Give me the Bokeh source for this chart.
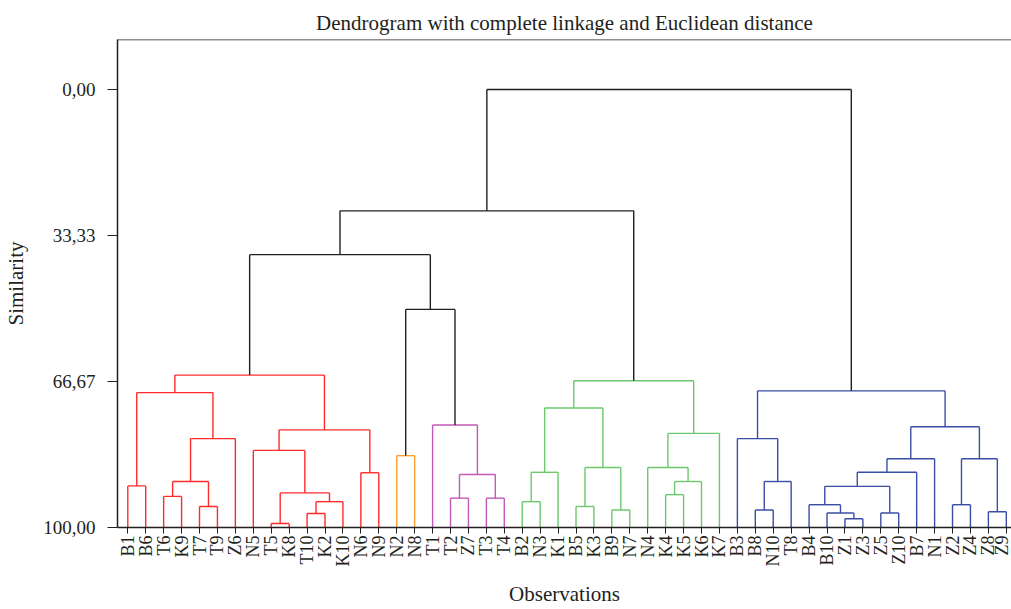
import math
from bokeh.plotting import figure
from bokeh.models import ColumnDataSource, Range1d, FixedTicker, Span
from bokeh.embed import file_html
from bokeh.resources import INLINE

# ---------------- data ----------------
leaves = ["B1", "B6", "T6", "K9", "T7", "T9", "Z6", "N5", "T5", "K8",
          "T10", "K2", "K10", "N6", "N9", "N2", "N8", "T1", "T2", "Z7",
          "T3", "T4", "B2", "N3", "K1", "B5", "K3", "B9", "N7", "N4",
          "K4", "K5", "K6", "K7", "B3", "B8", "N10", "T8", "B4", "B10",
          "Z1", "Z3", "Z5", "Z10", "B7", "N1", "Z2", "Z4", "Z8", "Z9"]

# merges: children are leaf names (str) or earlier merge indices (int)
merge_left = ["B1", "T6", "T7", 1, 3, 0, "T5", "T10", 7, 6,
              "N5", "N6", 10, 5, "N2", "T2", "T3", 15, "T1", 14,
              13, "B2", 21, "B5", "B9", 23, 22, "K4", 27, "N4",
              29, 26, 20, "B8", 33, "B3", "Z1", "B10", "B4", "Z5",
              38, 40, 41, "Z2", "Z8", 43, 42, 35, 32]
merge_right = ["B6", "K9", "T9", 2, "Z6", 4, "K8", "K2", "K10", 8,
               9, "N9", 11, 12, "N8", "Z7", "T4", 16, 17, 18,
               19, "N3", "K1", "K3", "N7", 24, 25, "K5", "K6", 28,
               "K7", 30, 31, "N10", "T8", 34, "Z3", 36, 37, "Z10",
               39, "B7", "N1", "Z4", "Z9", 44, 45, 46, 47]
merge_similarity = [90.5, 92.9, 95.2, 89.5, 79.7, 69.2, 99.1, 96.8, 94.1, 92.1,
                    82.4, 87.5, 77.7, 65.2, 83.6, 93.3, 93.3, 87.9, 76.6, 50.2,
                    37.7, 94.1, 87.4, 95.2, 96.0, 86.3, 72.7, 92.5, 89.5, 86.3,
                    78.5, 66.5, 27.7, 96.0, 89.5, 79.7, 98.0, 96.7, 94.8, 96.7,
                    90.6, 87.4, 84.3, 94.8, 96.4, 84.3, 77.0, 68.8, 0.0]
merge_cluster = ["C1"] * 14 + ["C2"] + ["C3"] * 4 + ["root"] * 2 + ["C4"] * 11 + \
                ["root"] + ["C5"] * 15 + ["root"]

y_ticks = [0, 33.33, 66.67, 100]
y_tick_labels = ["0,00", "33,33", "66,67", "100,00"]

cluster_colors = {"C1": "#ff2b2b", "C2": "#f9a12a", "C3": "#c458b8",
                  "C4": "#6cc86c", "C5": "#3a4ea6", "root": "#231f20"}

# ---------------- geometry from the tree ----------------
leaf_pos = {name: i for i, name in enumerate(leaves)}
node_x, node_y = [], []


def child_xy(c):
    if isinstance(c, str):
        return float(leaf_pos[c]), 100.0
    return node_x[c], node_y[c]


x0s, y0s, x1s, y1s, cols = [], [], [], [], []
for l, r, s, cl in zip(merge_left, merge_right, merge_similarity, merge_cluster):
    lx, ly = child_xy(l)
    rx, ry = child_xy(r)
    col = cluster_colors[cl]
    for seg in [(lx, ly, lx, s), (lx, s, rx, s), (rx, s, rx, ry)]:
        x0s.append(seg[0]); y0s.append(seg[1]); x1s.append(seg[2]); y1s.append(seg[3])
        cols.append(col)
    node_x.append((lx + rx) / 2.0)
    node_y.append(s)

src = ColumnDataSource(dict(x0=x0s, y0=y0s, x1=x1s, y1=y1s, color=cols))

FONT = "Liberation Serif"
TXT = "#231f20"
Y_TOP = -11.42

p = figure(width=1011, height=609, output_backend="svg", toolbar_location=None,
           x_range=Range1d(-0.574, 49.29), y_range=Range1d(100, Y_TOP),
           min_border_left=117, min_border_right=0, min_border_top=39,
           min_border_bottom=0,
           title="Dendrogram with complete linkage and Euclidean distance")

p.segment("x0", "y0", "x1", "y1", source=src, line_color="color", line_width=1.4)

p.outline_line_color = None
p.add_layout(Span(location=Y_TOP, dimension="width", line_color=TXT, line_width=1.5))
p.xgrid.visible = False
p.ygrid.visible = False

p.title.align = "center"
p.title.text_font = FONT
p.title.text_font_size = "21px"
p.title.text_font_style = "normal"
p.title.text_color = TXT
p.title.standoff = 9

# x axis
p.xaxis.ticker = FixedTicker(ticks=list(range(len(leaves))))
p.xaxis.major_label_overrides = {i: n for i, n in enumerate(leaves)}
p.xaxis.major_label_orientation = math.pi / 2
p.xaxis.major_label_text_font = FONT
p.xaxis.major_label_text_font_size = "18px"
p.xaxis.major_label_text_color = TXT
p.xaxis.major_label_standoff = 2
p.xaxis.major_tick_out = 6
p.xaxis.major_tick_in = 0
p.xaxis.minor_tick_line_color = None
p.xaxis.axis_line_width = 1.5
p.xaxis.axis_line_color = TXT
p.xaxis.major_tick_line_color = TXT
p.xaxis.axis_label = "Observations"
p.xaxis.axis_label_text_font = FONT
p.xaxis.axis_label_text_font_size = "21px"
p.xaxis.axis_label_text_font_style = "normal"
p.xaxis.axis_label_text_color = TXT
p.xaxis.axis_label_standoff = 13

# y axis
p.yaxis.ticker = FixedTicker(ticks=y_ticks)
p.yaxis.major_label_overrides = {t: lab for t, lab in zip(y_ticks, y_tick_labels)}
p.yaxis.major_label_text_font = FONT
p.yaxis.major_label_text_font_size = "19px"
p.yaxis.major_label_text_color = TXT
p.yaxis.major_label_standoff = 12
p.yaxis.major_tick_out = 10
p.yaxis.major_tick_in = 0
p.yaxis.minor_tick_line_color = None
p.yaxis.axis_line_width = 1.5
p.yaxis.axis_line_color = TXT
p.yaxis.major_tick_line_color = TXT
p.yaxis.axis_label = "Similarity"
p.yaxis.axis_label_text_font = FONT
p.yaxis.axis_label_text_font_size = "21px"
p.yaxis.axis_label_text_font_style = "normal"
p.yaxis.axis_label_text_color = TXT
p.yaxis.axis_label_standoff = 12

open("out.html", "w").write(file_html(p, INLINE))
